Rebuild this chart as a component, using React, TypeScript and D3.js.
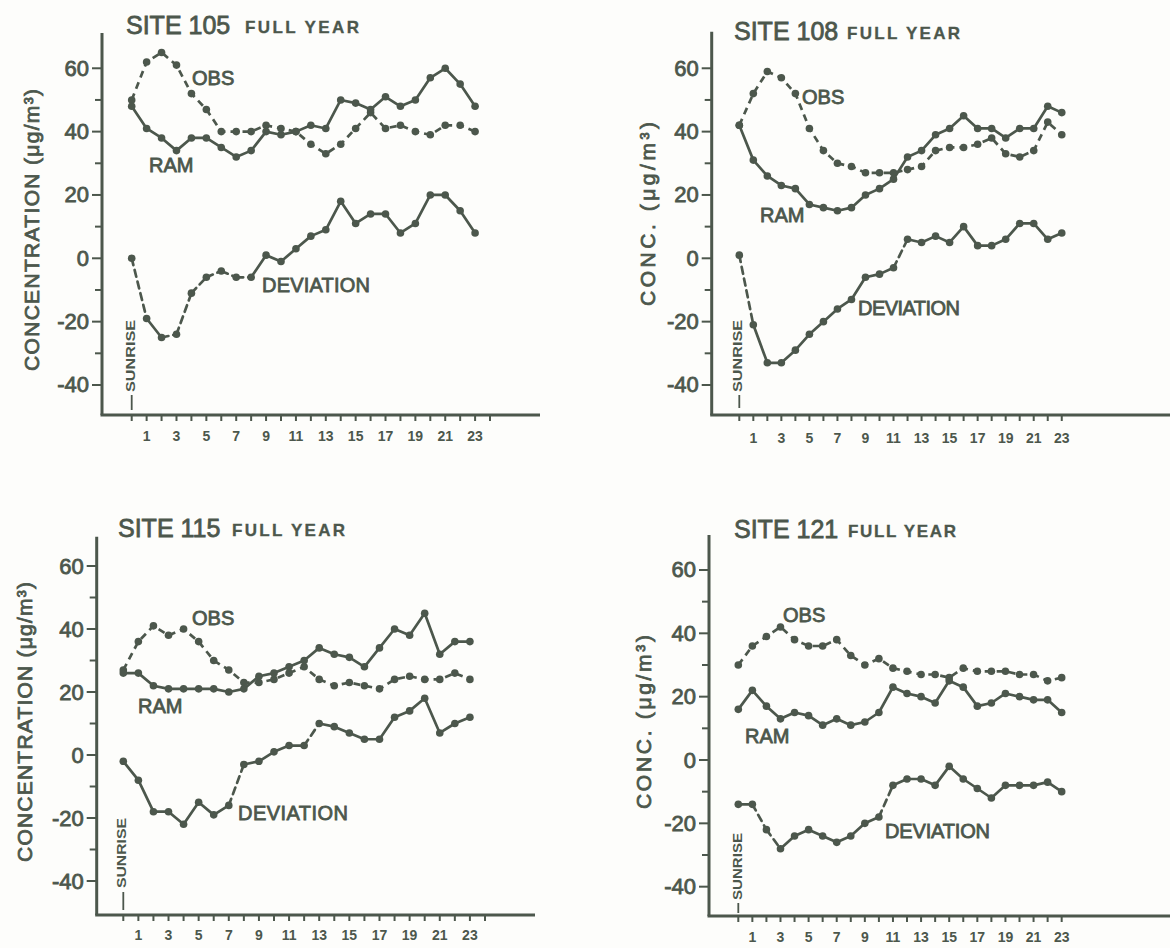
import React from "react";
import * as d3 from "d3";

// ---------- data ----------
const hours = [0, 1, 2, 3, 4, 5, 6, 7, 8, 9, 10, 11, 12, 13, 14, 15, 16, 17, 18, 19, 20, 21, 22, 23];
const xLabelHours = [1, 3, 5, 7, 9, 11, 13, 15, 17, 19, 21, 23];
const yMajorTicks = [60, 40, 20, 0, -20, -40];
const yAllTicks = [60, 50, 40, 30, 20, 10, 0, -10, -20, -30, -40];

const site105Obs = [50, 62, 65, 61, 52, 47, 40, 40, 40, 42, 41, 40, 36, 33, 36, 41, 46, 41, 42, 40, 39, 42, 42, 40];
const site105Ram = [48, 41, 38, 34, 38, 38, 35, 32, 34, 40, 39, 40, 42, 41, 50, 49, 47, 51, 48, 50, 57, 60, 55, 48];
const site105Dev = [0, -19, -25, -24, -11, -6, -4, -6, -6, 1, -1, 3, 7, 9, 18, 11, 14, 14, 8, 11, 20, 20, 15, 8];

const site108Obs = [42, 52, 59, 57, 52, 41, 34, 30, 29, 27, 27, 27, 28, 29, 34, 35, 35, 36, 38, 33, 32, 34, 43, 39];
const site108Ram = [42, 31, 26, 23, 22, 17, 16, 15, 16, 20, 22, 25, 32, 34, 39, 41, 45, 41, 41, 38, 41, 41, 48, 46];
const site108Dev = [1, -21, -33, -33, -29, -24, -20, -16, -13, -6, -5, -3, 6, 5, 7, 5, 10, 4, 4, 6, 11, 11, 6, 8];

const site115Obs = [27, 36, 41, 38, 40, 36, 30, 27, 23, 23, 24, 26, 28, 24, 22, 23, 22, 21, 24, 25, 24, 24, 26, 24];
const site115Ram = [26, 26, 22, 21, 21, 21, 21, 20, 21, 25, 26, 28, 30, 34, 32, 31, 28, 34, 40, 38, 45, 32, 36, 36];
const site115Dev = [-2, -8, -18, -18, -22, -15, -19, -16, -3, -2, 1, 3, 3, 10, 9, 7, 5, 5, 12, 14, 18, 7, 10, 12];

const site121Obs = [30, 36, 39, 42, 38, 36, 36, 38, 33, 30, 32, 29, 28, 27, 27, 26, 29, 28, 28, 28, 27, 27, 25, 26];
const site121Ram = [16, 22, 17, 13, 15, 14, 11, 13, 11, 12, 15, 23, 21, 20, 18, 25, 23, 17, 18, 21, 20, 19, 19, 15];
const site121Dev = [-14, -14, -22, -28, -24, -22, -24, -26, -24, -20, -18, -8, -6, -6, -8, -2, -6, -9, -12, -8, -8, -8, -7, -10];

const siteNames = ["SITE 105", "SITE 108", "SITE 115", "SITE 121"];
const periodLabel = "FULL YEAR";
const yTitleLong = "CONCENTRATION (\u03bcg/m\u00b3)";
const yTitleShort = "CONC. (\u03bcg/m\u00b3)";

// ---------- layout / style ----------
const INK = "#4c574c";
const FONT = "'Liberation Sans', Arial, Helvetica, sans-serif";

type Layout = {
  axisX: number; axisTop: number; xAxisY: number; xAxisEnd: number;
  h0: number; step: number; y0: number; unit: number; tickHours: number;
  titleX: number; titleY: number; fullDx: number; fullLen: number;
  yTitle: string; yTitleX: number; yTitleY: number; yTitleLen: number;
  obsLab: [number, number]; ramLab: [number, number]; devLab: [number, number]; devLen: number;
  sunX: number; sunTop: number; sunBottom: number; dashTop: number; dashBottom: number;
  labelBase: number; devDashed: number[];
};

const layouts: Layout[] = [
  {
    axisX: 102, axisTop: 33, xAxisY: 415, xAxisEnd: 540, h0: 131.7, step: 14.93, y0: 258.3, unit: 3.167, tickHours: 24,
    titleX: 126, titleY: 34, fullDx: 119, fullLen: 114,
    yTitle: yTitleLong, yTitleX: 31, yTitleY: 230, yTitleLen: 282,
    obsLab: [192, 85], ramLab: [149, 172], devLab: [262, 292], devLen: 108,
    sunX: 131, sunTop: 320, sunBottom: 392, dashTop: 395, dashBottom: 410,
    labelBase: 441, devDashed: [0, 2, 3, 4, 5, 6, 7],
  },
  {
    axisX: 711.7, axisTop: 31.7, xAxisY: 415, xAxisEnd: 1170, h0: 739.3, step: 14.02, y0: 258.3, unit: 3.167, tickHours: 23,
    titleX: 734, titleY: 40, fullDx: 113, fullLen: 113,
    yTitle: yTitleShort, yTitleX: 647, yTitleY: 214, yTitleLen: 184,
    obsLab: [802, 104], ramLab: [760, 222], devLab: [858, 315], devLen: 102,
    sunX: 738, sunTop: 320, sunBottom: 392, dashTop: 395, dashBottom: 408,
    labelBase: 443, devDashed: [0, 11],
  },
  {
    axisX: 96.7, axisTop: 536.7, xAxisY: 915, xAxisEnd: 535, h0: 123.3, step: 15.07, y0: 755, unit: 3.15, tickHours: 24,
    titleX: 118, titleY: 537, fullDx: 114, fullLen: 113,
    yTitle: yTitleLong, yTitleX: 24, yTitleY: 722, yTitleLen: 280,
    obsLab: [192, 625], ramLab: [138, 713], devLab: [238, 820], devLen: 110,
    sunX: 122, sunTop: 818, sunBottom: 888, dashTop: 892, dashBottom: 910,
    labelBase: 940, devDashed: [7, 12],
  },
  {
    axisX: 709, axisTop: 535, xAxisY: 916, xAxisEnd: 1170, h0: 738.3, step: 14.06, y0: 760, unit: 3.167, tickHours: 23,
    titleX: 734, titleY: 538, fullDx: 114, fullLen: 108,
    yTitle: yTitleShort, yTitleX: 643, yTitleY: 722, yTitleLen: 174,
    obsLab: [783, 622], ramLab: [745, 743], devLab: [885, 838], devLen: 105,
    sunX: 738, sunTop: 833, sunBottom: 900, dashTop: 903, dashBottom: 913,
    labelBase: 942, devDashed: [1, 2, 10],
  },
];

const seriesSets = [
  { obs: site105Obs, ram: site105Ram, dev: site105Dev },
  { obs: site108Obs, ram: site108Ram, dev: site108Dev },
  { obs: site115Obs, ram: site115Ram, dev: site115Dev },
  { obs: site121Obs, ram: site121Ram, dev: site121Dev },
];

function Panel({ L, name, s }: { L: Layout; name: string; s: { obs: number[]; ram: number[]; dev: number[] } }) {
  const x = d3.scaleLinear().domain([0, 23]).range([L.h0, L.h0 + 23 * L.step]);
  const y = d3.scaleLinear().domain([0, 60]).range([L.y0, L.y0 - 60 * L.unit]);
  const line = d3.line<number>().x((_, i) => x(hours[i])).y((v) => y(v));
  const tickHourList = d3.range(0, L.tickHours + 1);

  const dots = (data: number[], key: string) =>
    data.map((v, i) => <circle key={key + i} cx={x(hours[i])} cy={y(v)} r={3.8} fill={INK} />);

  const segs = (data: number[], dashed: number[], key: string) =>
    data.slice(0, -1).map((v, i) => (
      <line
        key={key + i}
        x1={x(hours[i])} y1={y(v)} x2={x(hours[i + 1])} y2={y(data[i + 1])}
        stroke={INK} strokeWidth={2.7} strokeLinecap="round"
        strokeDasharray={dashed.includes(i) ? "7 5" : undefined}
      />
    ));

  const labStyle = { fill: INK, stroke: INK, strokeWidth: 0.8 } as const;

  return (
    <g>
      {/* title */}
      <text x={L.titleX} y={L.titleY} fontSize={25} {...labStyle}>{name}</text>
      <text x={L.titleX + L.fullDx} y={L.titleY - 1} fontSize={17} fontWeight="bold" fill={INK}
        stroke={INK} strokeWidth={0.3} textLength={L.fullLen} lengthAdjust="spacing">{periodLabel}</text>

      {/* y axis title */}
      <text transform={`translate(${L.yTitleX},${L.yTitleY}) rotate(-90)`} textAnchor="middle"
        dominantBaseline="central" fontSize={21} textLength={L.yTitleLen} lengthAdjust="spacing" {...labStyle}>
        {L.yTitle}
      </text>

      {/* axes */}
      <line x1={L.axisX} y1={L.axisTop} x2={L.axisX} y2={L.xAxisY} stroke={INK} strokeWidth={3} />
      <line x1={L.axisX - 1.5} y1={L.xAxisY} x2={L.xAxisEnd} y2={L.xAxisY} stroke={INK} strokeWidth={3} />
      {yAllTicks.map((t) => (
        <line key={"yt" + t} x1={L.axisX - (yMajorTicks.includes(t) ? 10 : 7)} x2={L.axisX}
          y1={y(t)} y2={y(t)} stroke={INK} strokeWidth={2} />
      ))}
      {yMajorTicks.map((t) => (
        <text key={"yl" + t} x={L.axisX - 13} y={y(t)} textAnchor="end" dominantBaseline="central"
          fontSize={22} {...labStyle}>{String(t)}</text>
      ))}
      {tickHourList.map((h) => (
        <line key={"xt" + h} x1={x(h)} x2={x(h)} y1={L.xAxisY} y2={L.xAxisY + 6} stroke={INK} strokeWidth={2} />
      ))}
      {xLabelHours.map((h) => (
        <text key={"xl" + h} x={x(h)} y={L.labelBase} textAnchor="middle" fontSize={14} fontWeight="bold" fill={INK}>
          {String(h)}
        </text>
      ))}

      {/* sunrise marker */}
      <line x1={x(0)} x2={x(0)} y1={L.dashTop} y2={L.dashBottom} stroke={INK} strokeWidth={1.8} />
      <text transform={`translate(${L.sunX},${(L.sunTop + L.sunBottom) / 2}) rotate(-90)`} textAnchor="middle"
        dominantBaseline="central" fontSize={12} fontWeight="bold" fill={INK}
        textLength={L.sunBottom - L.sunTop} lengthAdjust="spacingAndGlyphs">SUNRISE</text>

      {/* series */}
      <path d={line(s.obs) || ""} fill="none" stroke={INK} strokeWidth={2.7} strokeDasharray="7 5" />
      <path d={line(s.ram) || ""} fill="none" stroke={INK} strokeWidth={2.7} strokeLinejoin="round" />
      {segs(s.dev, L.devDashed, "dv")}
      {dots(s.obs, "o")}
      {dots(s.ram, "r")}
      {dots(s.dev, "d")}

      {/* series labels */}
      <text x={L.obsLab[0]} y={L.obsLab[1]} fontSize={20} {...labStyle}>OBS</text>
      <text x={L.ramLab[0]} y={L.ramLab[1]} fontSize={20} {...labStyle}>RAM</text>
      <text x={L.devLab[0]} y={L.devLab[1]} fontSize={20} textLength={L.devLen} lengthAdjust="spacing" {...labStyle}>DEVIATION</text>
    </g>
  );
}

export default function App() {
  return (
    <div style={{ position: "absolute", left: 0, top: 0 }}>
      <svg width={1170} height={948} viewBox="0 0 1170 948" fontFamily={FONT}
        style={{ display: "block", background: "#fdfdfb" }}>
        <rect x={0} y={0} width={1170} height={948} fill="#fdfdfb" />
        {layouts.map((L, i) => (
          <Panel key={siteNames[i]} L={L} name={siteNames[i]} s={seriesSets[i]} />
        ))}
      </svg>
    </div>
  );
}
